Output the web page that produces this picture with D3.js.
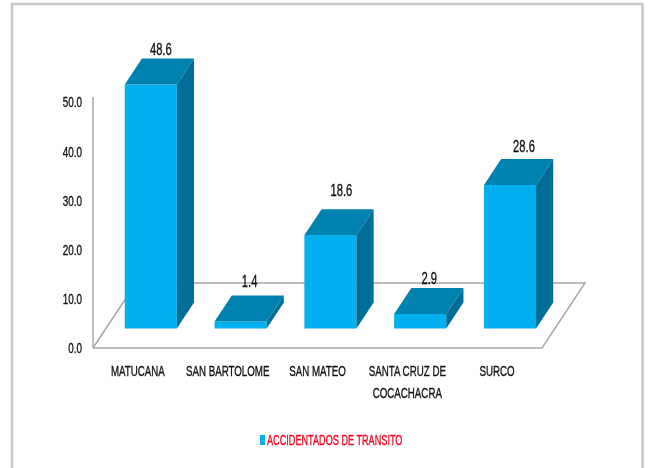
<!DOCTYPE html>
<html lang="en">
  <head>
    <meta charset="utf-8" />
    <title>Accidentados de transito</title>
    <script src="https://d3js.org/d3.v7.min.js"></script>
    <style>
      html, body {
        margin: 0;
        background: #fff;
      }
      svg {
        display: block;
        filter: blur(0.5px);
      }
      text {
        font-family: "Liberation Sans", sans-serif;
        fill: #111;
        stroke: #111;
        stroke-width: 0.35;
      }
      .floor, .y-line {
        fill: none;
        stroke: #a8a8a8;
        stroke-width: 1.5;
      }
    </style>
  </head>
  <body>
    <svg width="650" height="468"></svg>
    <script>

    var categories = ["MATUCANA", "SAN BARTOLOME", "SAN MATEO", "SANTA CRUZ DE|COCACHACRA", "SURCO"];
    var values = [48.6, 1.4, 18.6, 2.9, 28.6];
    var yTicks = [0, 10, 20, 30, 40, 50];
    var seriesName = "ACCIDENTADOS DE TRANSITO";

    var svg = d3.select("svg"),
        left = 93, right = 542,
        floorY = 348, topY = 97,
        depthX = 43, depthY = 65;

    var x = d3.scaleBand().domain(categories).range([left, right]).paddingInner(0.42).paddingOuter(0.21),
        y = d3.scaleLinear().domain([0, 50]).range([floorY, topY]),
        // the tick labels sit a little tighter than the bars' scale
        yLabels = d3.scaleLinear().domain([0, 50]).range([floorY, topY + 5]);

    // bars stand 30% into the floor depth and take 40% of it
    var barDx = depthX * 0.3, barDy = depthY * 0.3,
        sideDx = depthX * 0.4, sideDy = depthY * 0.4;

    // hand nudges for the value labels, the original ones were placed unevenly
    var nudgeX = [1, 0, 2, 0, 5],
        nudgeY = [1, -3, -8, 1, -2];

    // the font is squeezed sideways like the stretched original
    function squeeze(sel, k) {
      sel.each(function() {
        var t = d3.select(this),
            tx = +t.attr("x") || 0,
            ty = +t.attr("y") || 0;
        t.attr("x", 0).attr("y", 0)
            .attr("transform", "translate(" + tx + "," + ty + ") scale(" + k + ",1)");
      });
    }

    // picture frame
    svg.append("path")
        .attr("d", "M12,468V4H642.5V468")
        .attr("fill", "none")
        .attr("stroke", "#c8c8c8")
        .attr("stroke-width", 2.5);

    // floor and wall line
    svg.append("path").attr("class", "floor")
        .attr("d", d3.line()([
          [left, floorY], [right, floorY], [right + depthX, floorY - depthY],
          [left + depthX, floorY - depthY], [left, floorY]
        ]));

    svg.append("line").attr("class", "y-line")
        .attr("x1", left).attr("x2", left)
        .attr("y1", topY).attr("y2", floorY);

    var yAxis = svg.append("g")
        .attr("transform", "translate(" + left + ",0)")
        .call(d3.axisLeft(yLabels).tickValues(yTicks).tickSize(0).tickPadding(11).tickFormat(d3.format(".1f")));
    yAxis.select(".domain").remove();
    yAxis.attr("font-family", null).attr("font-size", null);
    yAxis.selectAll("text").style("font-size", "15px").call(squeeze, 0.66);

    var bar = svg.selectAll(".bar")
        .data(values)
        .enter().append("g")
        .attr("class", "bar");

    function barX(i) { return x(categories[i]) + barDx; }
    function barBase() { return floorY - barDy; }
    function barTop(d) { return y(d) - barDy; }

    bar.append("rect")
        .attr("x", function(d, i) { return barX(i); })
        .attr("y", function(d) { return barTop(d); })
        .attr("width", x.bandwidth())
        .attr("height", function(d) { return barBase() - barTop(d); })
        .attr("fill", "#00b0f0");

    bar.append("path")
        .attr("fill", "#0082b1")
        .attr("d", function(d, i) {
          var a = barX(i), b = a + x.bandwidth(), t = barTop(d);
          return d3.line()([[a, t], [b, t], [b + sideDx, t - sideDy], [a + sideDx, t - sideDy]]) + "Z";
        });

    bar.append("path")
        .attr("fill", "#006e96")
        .attr("d", function(d, i) {
          var b = barX(i) + x.bandwidth(), t = barTop(d);
          return d3.line()([[b, t], [b + sideDx, t - sideDy], [b + sideDx, barBase() - sideDy], [b, barBase()]]) + "Z";
        });

    bar.append("text")
        .attr("x", function(d, i) { return barX(i) + x.bandwidth() / 2 + 9 + nudgeX[i]; })
        .attr("y", function(d, i) { return barTop(d) - sideDy - 5 + nudgeY[i]; })
        .attr("text-anchor", "middle")
        .style("font-size", "16px")
        .text(function(d) { return d.toFixed(1); })
        .call(squeeze, 0.7);

    // category labels, | marks a line break
    categories.forEach(function(d) {
      d.split("|").forEach(function(part, i) {
        svg.append("text")
            .attr("class", "cat")
            .attr("text-anchor", "middle")
            .attr("x", x(d) + x.bandwidth() / 2)
            .attr("y", 376 + i * 22)
            .style("font-size", "15px")
            .text(part)
            .call(squeeze, 0.65);
      });
    });

    svg.append("rect")
        .attr("x", 260).attr("y", 435)
        .attr("width", 5).attr("height", 10)
        .attr("fill", "#00b0f0");

    svg.append("text")
        .attr("x", 267).attr("y", 445)
        .style("font-size", "14.5px")
        .style("fill", "#f5051e")
        .style("stroke", "#f5051e")
        .text(seriesName)
        .call(squeeze, 0.63);

    </script>
  </body>
</html>
